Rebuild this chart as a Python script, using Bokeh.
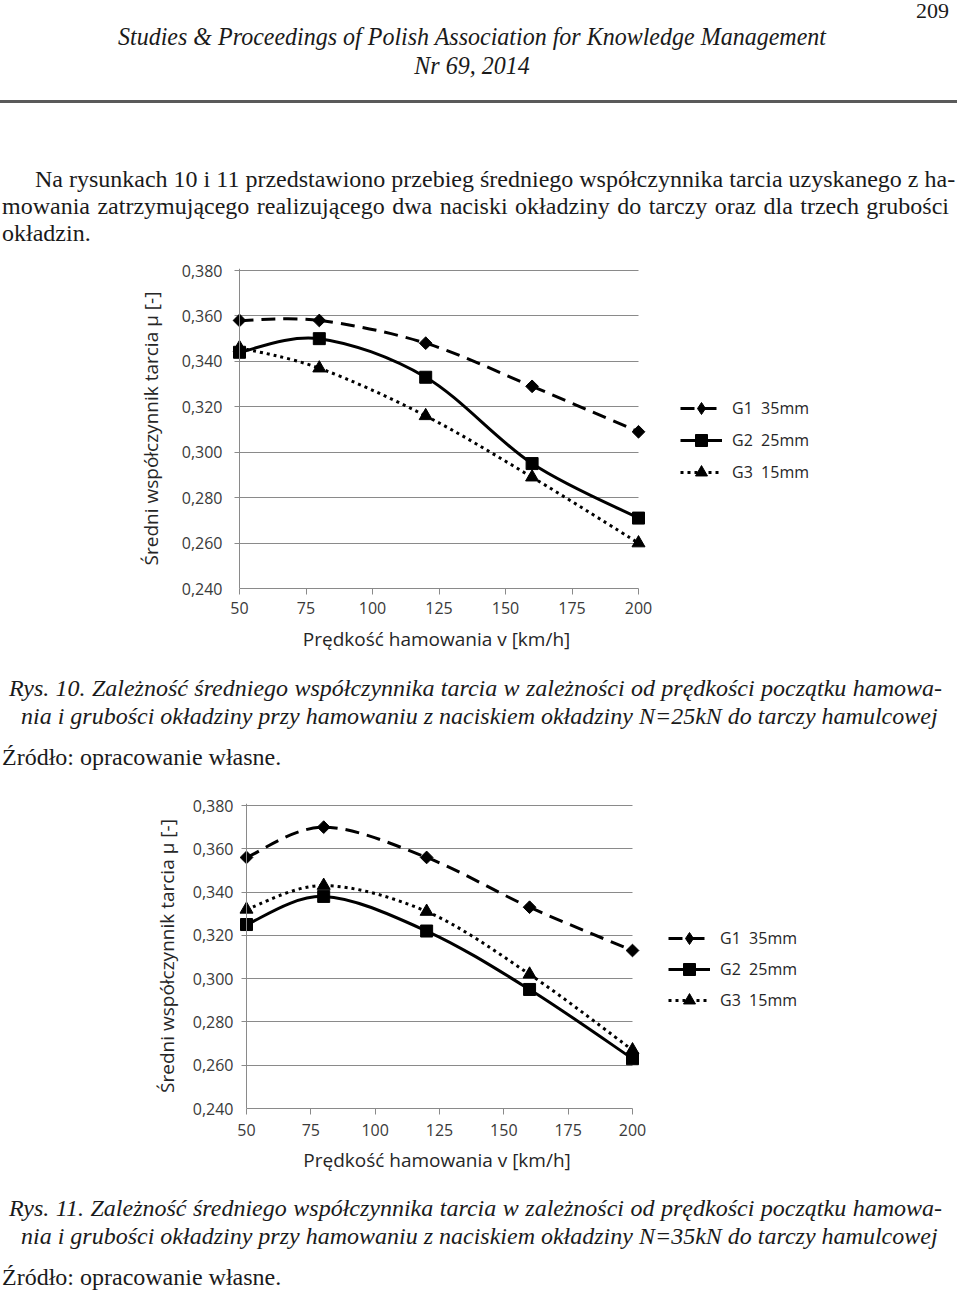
import numpy as np
from bokeh.plotting import figure
from bokeh.models import Div, Legend, LegendItem, FixedTicker, Range1d, Span, Spacer
from bokeh.layouts import column, row
from bokeh.embed import file_html
from bokeh.resources import INLINE

# ---------------- data ----------------
SPEED = [50, 80, 120, 160, 200]
X_TICKS = [50, 75, 100, 125, 150, 175, 200]
Y_TICKS = [0.24, 0.26, 0.28, 0.30, 0.32, 0.34, 0.36, 0.38]
Y_TICK_LABELS = ["0,240", "0,260", "0,280", "0,300", "0,320", "0,340", "0,360", "0,380"]
SERIES_LABELS = ["G1  35mm", "G2  25mm", "G3  15mm"]

# Rys. 10 (N=25kN)
R10_G1 = [0.358, 0.358, 0.348, 0.329, 0.309]
R10_G2 = [0.344, 0.350, 0.333, 0.295, 0.271]
R10_G3 = [0.346, 0.337, 0.316, 0.289, 0.260]
# Rys. 11 (N=35kN)
R11_G1 = [0.356, 0.370, 0.356, 0.333, 0.313]
R11_G2 = [0.325, 0.338, 0.322, 0.295, 0.263]
R11_G3 = [0.332, 0.343, 0.331, 0.302, 0.267]

X_TITLE = "Prędkość hamowania v  [km/h]"
Y_TITLE = "Średni współczynnik tarcia µ [-]"

SANS = "Open Sans"
SERIF = "Liberation Serif"
GRID = "#8a8a8a"


def smooth_segments(xs, ys):
    """Excel-like smoothed line: Catmull-Rom converted to cubic Bezier control points."""
    x = np.asarray(xs, float)
    y = np.asarray(ys, float)
    n = len(x)
    idx = np.arange(n - 1)
    prev = np.clip(idx - 1, 0, n - 1)
    nxt = np.clip(idx + 2, 0, n - 1)
    cx0 = x[idx] + (x[idx + 1] - x[prev]) / 6.0
    cy0 = y[idx] + (y[idx + 1] - y[prev]) / 6.0
    cx1 = x[idx + 1] - (x[nxt] - x[idx]) / 6.0
    cy1 = y[idx + 1] - (y[nxt] - y[idx]) / 6.0
    return dict(x0=x[idx], y0=y[idx], x1=x[idx + 1], y1=y[idx + 1],
                cx0=cx0, cy0=cy0, cx1=cx1, cy1=cy1)


def make_chart(series, total_w, border_left, axis_w, border_top, frame_h, border_bottom,
               leg_loc, leg_spacing, xl_standoff, xt_standoff, yl_standoff, yt_standoff):
    pad = 11   # px of room left/right so end markers are not clipped
    tpad = 2   # px of room above the top gridline
    ppu = axis_w / 150.0
    frame_w = axis_w + 2 * pad
    fh = frame_h + tpad
    p = figure(frame_width=frame_w, frame_height=fh,
               min_border_left=border_left, min_border_top=border_top - tpad,
               min_border_bottom=border_bottom,
               min_border_right=total_w - border_left - frame_w,
               x_range=Range1d(50 - pad / ppu, 200 + pad / ppu),
               y_range=Range1d(0.24, 0.38 + tpad * 0.14 / frame_h),
               output_backend="svg", toolbar_location=None)
    p.outline_line_color = None
    p.xgrid.grid_line_color = None
    p.ygrid.grid_line_color = GRID
    p.ygrid.grid_line_width = 1
    p.ygrid.ticker = FixedTicker(ticks=Y_TICKS)
    # grid lines start 5px left of the value axis, which gives the small outward ticks
    p.ygrid.cross_bounds = (50 - 5 / ppu, 200)

    for ax in (p.xaxis[0], p.yaxis[0]):
        ax.minor_tick_line_color = None
        ax.major_tick_in = 0
        ax.major_label_text_font = SANS
        ax.major_label_text_font_size = "16px"
        ax.major_label_text_color = "#3a3a3a"
        ax.axis_label_text_font = SANS
        ax.axis_label_text_font_size = "19px"
        ax.axis_label_text_font_style = "normal"
        ax.axis_label_text_color = "#262626"

    p.xaxis.ticker = FixedTicker(ticks=X_TICKS)
    p.xaxis.bounds = (50, 200)
    p.xaxis.axis_line_color = GRID
    p.xaxis.major_tick_line_color = GRID
    p.xaxis.major_tick_out = 6
    p.xaxis.major_label_standoff = xl_standoff
    p.xaxis.axis_label = X_TITLE
    p.xaxis.axis_label_standoff = xt_standoff

    p.yaxis.ticker = FixedTicker(ticks=Y_TICKS)
    p.yaxis.major_label_overrides = dict(zip(Y_TICKS, Y_TICK_LABELS))
    p.yaxis.axis_line_color = None
    p.yaxis.major_tick_line_color = None
    p.yaxis.major_tick_out = 0
    p.yaxis.major_label_standoff = yl_standoff
    p.yaxis.axis_label = Y_TITLE
    p.yaxis.axis_label_standoff = yt_standoff
    # value-axis line at v = 50
    p.add_layout(Span(location=50, dimension="height", line_color=GRID, line_width=1))

    styles = [
        dict(dash="14 8", marker="square", angle=np.pi / 4, size=9, leg_marker="diamond"),
        dict(dash="solid", marker="square", angle=0.0, size=12, leg_marker="square"),
        dict(dash="3 4", marker="triangle", angle=0.0, size=13, leg_marker="triangle"),
    ]
    items = []
    for vals, st, label in zip(series, styles, SERIES_LABELS):
        seg = smooth_segments(SPEED, vals)
        bz = p.bezier(line_color="black", line_width=3, line_dash=st["dash"], **seg)
        p.scatter(SPEED, vals, marker=st["marker"], angle=st["angle"], size=st["size"],
                  fill_color="black", line_color="black")
        # legend-only marker (a single NaN point is not drawn in the plot area)
        lg = p.scatter([np.nan], [np.nan], marker=st["leg_marker"], size=st["size"],
                       fill_color="black", line_color="black")
        items.append(LegendItem(label=label, renderers=[bz, lg]))

    legend = Legend(items=items, location=(leg_loc[0] - pad, leg_loc[1]), glyph_width=42,
                    glyph_height=30, label_standoff=10, spacing=leg_spacing, padding=0,
                    margin=0, border_line_color=None, background_fill_alpha=0,
                    label_text_font=SANS, label_text_font_size="16px",
                    label_text_color="#262626")
    p.add_layout(legend, "right")
    return p


def line_div(text, top, left=None, width=None, size=23, italic=False, justify=False,
             center=False, right=None, extra=""):
    st = ["position:absolute", f"top:{top}px", f"font-family:'{SERIF}'",
          f"font-size:{size}px", "line-height:1", "white-space:nowrap", "color:#1a1a1a"]
    if italic:
        st.append("font-style:italic")
    if left is not None:
        st.append(f"left:{left}px")
    if right is not None:
        st.append(f"right:{right}px")
    if width is not None:
        st.append(f"width:{width}px")
    if justify:
        st.append("text-align:justify")
        st.append("text-align-last:justify")
    if center:
        st.append("text-align:center")
    if extra:
        st.append(extra)
    return f'<div style="{";".join(st)}">{text}</div>'


def block(parts, height):
    return Div(text=f'<div style="position:relative;width:944px;height:{height}px">' + "".join(parts) + "</div>",
               width=944, height=height, styles={"overflow": "visible"})


# ---------------- header + paragraph ----------------
head = [
    line_div("209", top=-5, right=0, size=22),
    line_div("Studies &amp; Proceedings of Polish Association for Knowledge Management",
             top=19, left=0, width=934, size=25, italic=True, center=True,
             extra="transform:scaleX(0.96);transform-origin:467px 0"),
    line_div("Nr 69, 2014", top=48, left=0, width=934, size=25, italic=True, center=True,
             extra="transform:scaleX(0.96);transform-origin:467px 0"),
    '<div style="position:absolute;left:-8px;top:95px;width:960px;height:3px;background:#5a5a5a"></div>',
    line_div("Na rysunkach 10 i 11 przedstawiono przebieg średniego współczynnika tarcia uzyskanego z ha-",
             top=162, left=30, width=914, size=24, justify=True),
    line_div("mowania zatrzymującego realizującego dwa naciski okładziny do tarczy oraz dla trzech grubości",
             top=189, left=-3, width=947, size=24, justify=True),
    line_div("okładzin.", top=216, left=-3, size=24),
]
div_head = block(head, 242)

cap1 = [
    line_div("Rys. 10. Zależność średniego współczynnika tarcia w zależności od prędkości początku hamowa-",
             top=9, left=4, width=933, size=24, italic=True, justify=True),
    line_div("nia i grubości okładziny przy hamowaniu z naciskiem okładziny N=25kN do tarczy hamulcowej",
             top=37, left=16, width=914, size=24, italic=True, justify=True),
    line_div("Źródło: opracowanie własne.", top=78, left=-3, size=24),
]
div_cap1 = block(cap1, 117)

cap2 = [
    line_div("Rys. 11. Zależność średniego współczynnika tarcia w zależności od prędkości początku hamowa-",
             top=13, left=4, width=933, size=24, italic=True, justify=True),
    line_div("nia i grubości okładziny przy hamowaniu z naciskiem okładziny N=35kN do tarczy hamulcowej",
             top=41, left=16, width=914, size=24, italic=True, justify=True),
    line_div("Źródło: opracowanie własne.", top=82, left=-3, size=24),
]
div_cap2 = block(cap2, 104)

# figure 1: value axis at page x=239 (frame starts 11 px left of it), 399 px for 50..200
fig1 = make_chart([R10_G1, R10_G2, R10_G3], total_w=944, border_left=228, axis_w=399,
                  border_top=18, frame_h=318, border_bottom=74,
                  leg_loc=(42, 101), leg_spacing=2,
                  xl_standoff=7, xt_standoff=9, yl_standoff=6, yt_standoff=15)
# figure 2: value axis at page x=246, 386 px for 50..200 (shifted by a 7 px spacer)
SHIFT2 = 7
fig2 = make_chart([R11_G1, R11_G2, R11_G3], total_w=944 - SHIFT2, border_left=228, axis_w=386,
                  border_top=16, frame_h=303, border_bottom=70,
                  leg_loc=(36, 93), leg_spacing=1,
                  xl_standoff=9, xt_standoff=8, yl_standoff=2, yt_standoff=10)

page = column(div_head, fig1, div_cap1,
              row(Spacer(width=SHIFT2, height=10), fig2, spacing=0),
              div_cap2, spacing=0)

open("out.html", "w").write(file_html(page, INLINE))
